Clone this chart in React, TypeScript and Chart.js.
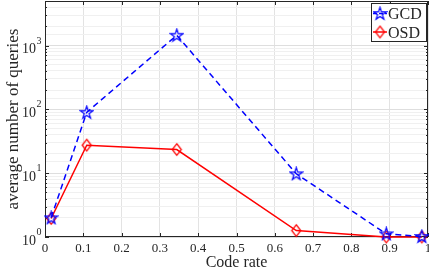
import { useEffect, useRef } from "react";
import { Chart, registerables } from "chart.js";

Chart.register(...registerables);

// ---- data ----
const codeRates = [0.016, 0.109, 0.344, 0.656, 0.891, 0.984];
const gcdQueries = [2.0, 90, 1450, 9.8, 1.12, 1.02];
const osdQueries = [1.95, 27.5, 23.5, 1.26, 1.0, 1.0];
const seriesNames = ["GCD", "OSD"];
const xTickValues = [0, 0.1, 0.2, 0.3, 0.4, 0.5, 0.6, 0.7, 0.8, 0.9, 1];
const xTickLabels = ["0", "0.1", "0.2", "0.3", "0.4", "0.5", "0.6", "0.7", "0.8", "0.9", "1"];
const yDecadeExponents = [0, 1, 2, 3];
const xTitle = "Code rate";
const yTitle = "average number of queries";
const yMin = 1;
const yMax = 5000;

const BLUE = "#0000ff";
const RED = "#ff0000";
const AXIS = "#262626";
const FONT = "'Liberation Serif', 'Times New Roman', serif";

function makePentagram(color: string): HTMLCanvasElement {
  const c = document.createElement("canvas");
  c.width = 15;
  c.height = 15;
  const ctx = c.getContext("2d")!;
  const cx = 7.5, cy = 7.9, R = 6.6, r = R * 0.382;
  ctx.beginPath();
  for (let i = 0; i < 10; i++) {
    const rad = i % 2 === 0 ? R : r;
    const a = -Math.PI / 2 + (i * Math.PI) / 5;
    const x = cx + rad * Math.cos(a);
    const y = cy + rad * Math.sin(a);
    if (i === 0) ctx.moveTo(x, y);
    else ctx.lineTo(x, y);
  }
  ctx.closePath();
  ctx.strokeStyle = color;
  ctx.lineWidth = 1.2;
  ctx.lineJoin = "miter";
  ctx.stroke();
  return c;
}

function makeDiamond(color: string): HTMLCanvasElement {
  const c = document.createElement("canvas");
  c.width = 13;
  c.height = 15;
  const ctx = c.getContext("2d")!;
  const cx = 6.5, cy = 7.5, hw = 4.5, hh = 5.8;
  ctx.beginPath();
  ctx.moveTo(cx, cy - hh);
  ctx.lineTo(cx + hw, cy);
  ctx.lineTo(cx, cy + hh);
  ctx.lineTo(cx - hw, cy);
  ctx.closePath();
  ctx.strokeStyle = color;
  ctx.lineWidth = 1.3;
  ctx.stroke();
  return c;
}

export default function App() {
  const ref = useRef<HTMLCanvasElement | null>(null);

  useEffect(() => {
    const canvas = ref.current;
    if (!canvas) return;
    const star = makePentagram(BLUE);
    const diamond = makeDiamond(RED);

    const isDecade = (v: number) => Math.abs(Math.log10(v) - Math.round(Math.log10(v))) < 1e-9;

    const boxPlugin = {
      id: "matlabBox",
      beforeDatasetsDraw(chart: any) {
        const { ctx, chartArea: a } = chart;
        const xs = chart.scales.x;
        const ys = chart.scales.y;
        ctx.save();
        ctx.strokeStyle = AXIS;
        ctx.lineWidth = 1;
        ctx.beginPath();
        for (const v of xTickValues) {
          const px = Math.round(xs.getPixelForValue(v)) + 0.5;
          ctx.moveTo(px, a.bottom);
          ctx.lineTo(px, a.bottom - 4);
          ctx.moveTo(px, a.top);
          ctx.lineTo(px, a.top + 4);
        }
        for (let e = 0; e <= 3; e++) {
          for (let m = 1; m <= 9; m++) {
            const v = m * Math.pow(10, e);
            if (v > yMax) break;
            const len = m === 1 ? 4 : 2;
            const py = Math.round(ys.getPixelForValue(v)) + 0.5;
            ctx.moveTo(a.left, py);
            ctx.lineTo(a.left + len, py);
            ctx.moveTo(a.right, py);
            ctx.lineTo(a.right - len, py);
          }
        }
        ctx.stroke();
        ctx.strokeRect(
          Math.round(a.left) + 0.5,
          Math.round(a.top) + 0.5,
          Math.round(a.right) - Math.round(a.left) - 1,
          Math.round(a.bottom) - Math.round(a.top) - 1
        );
        ctx.restore();
      },
      afterDraw(chart: any) {
        const { ctx, chartArea: a } = chart;
        const xs = chart.scales.x;
        const ys = chart.scales.y;
        ctx.save();
        ctx.fillStyle = AXIS;
        ctx.font = `13px ${FONT}`;
        ctx.textAlign = "center";
        ctx.textBaseline = "alphabetic";
        xTickValues.forEach((v, i) => {
          ctx.fillText(xTickLabels[i], xs.getPixelForValue(v), a.bottom + 15);
        });
        for (const e of yDecadeExponents) {
          const py = ys.getPixelForValue(Math.pow(10, e));
          ctx.font = `14px ${FONT}`;
          ctx.textAlign = "right";
          ctx.fillText("10", 36, py + 7.5);
          ctx.font = `10px ${FONT}`;
          ctx.textAlign = "left";
          ctx.fillText(String(e), 36.5, py - 2);
        }
        ctx.font = `16px ${FONT}`;
        ctx.textAlign = "center";
        ctx.fillText(xTitle, (a.left + a.right) / 2, 267);
        ctx.save();
        ctx.translate(17.5, (a.top + a.bottom) / 2);
        ctx.rotate(-Math.PI / 2);
        ctx.font = `17px ${FONT}`;
        ctx.fillText(yTitle, 0, 0);
        ctx.restore();

        const lx = 371, ly = 3, lw = 56, lh = 39;
        ctx.fillStyle = "#ffffff";
        ctx.fillRect(lx, ly, lw, lh);
        ctx.strokeStyle = AXIS;
        ctx.lineWidth = 1;
        ctx.strokeRect(lx + 0.5, ly + 0.5, lw - 1, lh - 1);
        const entries = [
          { name: seriesNames[0], color: BLUE, img: star, dash: [4, 2], cy: 13.5 },
          { name: seriesNames[1], color: RED, img: diamond, dash: [], cy: 32 },
        ];
        for (const en of entries) {
          ctx.strokeStyle = en.color;
          ctx.lineWidth = 1.5;
          ctx.setLineDash(en.dash);
          ctx.beginPath();
          ctx.moveTo(373, en.cy);
          ctx.lineTo(387, en.cy);
          ctx.stroke();
          ctx.setLineDash([]);
          ctx.drawImage(en.img, 380 - en.img.width / 2, en.cy - en.img.height / 2);
          ctx.fillStyle = AXIS;
          ctx.font = `16px ${FONT}`;
          ctx.textAlign = "left";
          ctx.fillText(en.name, 388, en.cy + 5.5);
        }
        ctx.restore();
      },
    };

    const chart = new Chart(canvas, {
      type: "line",
      data: {
        datasets: [
          {
            label: seriesNames[0],
            data: codeRates.map((x, i) => ({ x, y: gcdQueries[i] })),
            borderColor: BLUE,
            backgroundColor: BLUE,
            borderWidth: 1.5,
            borderDash: [6, 4],
            pointStyle: star as any,
            pointRadius: 6,
            tension: 0,
            clip: false as any,
          },
          {
            label: seriesNames[1],
            data: codeRates.map((x, i) => ({ x, y: osdQueries[i] })),
            borderColor: RED,
            backgroundColor: RED,
            borderWidth: 1.5,
            pointStyle: diamond as any,
            pointRadius: 6,
            tension: 0,
            clip: false as any,
          },
        ],
      },
      options: {
        responsive: false,
        animation: false,
        layout: { autoPadding: false, padding: { top: 1, right: 1, left: 0, bottom: 0 } },
        plugins: { legend: { display: false }, tooltip: { enabled: false } },
        scales: {
          x: {
            type: "linear",
            min: 0,
            max: 1,
            ticks: { display: false, stepSize: 0.1 },
            border: { display: false },
            grid: { color: "#e3e3e3", drawTicks: false, lineWidth: 1 },
            afterFit: (s: any) => {
              s.height = 36;
            },
          },
          y: {
            type: "logarithmic",
            min: yMin,
            max: yMax,
            ticks: { display: false },
            border: { display: false },
            grid: {
              drawTicks: false,
              lineWidth: 1,
              color: (c: any) => (c.tick && isDecade(c.tick.value) ? "#dedede" : "#f0f0f0"),
            },
            afterFit: (s: any) => {
              s.width = 45;
            },
          },
        },
      } as any,
      plugins: [boxPlugin],
    });
    return () => chart.destroy();
  }, []);

  return (
    <div style={{ position: "fixed", left: 0, top: 0, width: 429, height: 273, background: "#fff" }}>
      <canvas ref={ref} width={429} height={273} style={{ display: "block" }} />
    </div>
  );
}
